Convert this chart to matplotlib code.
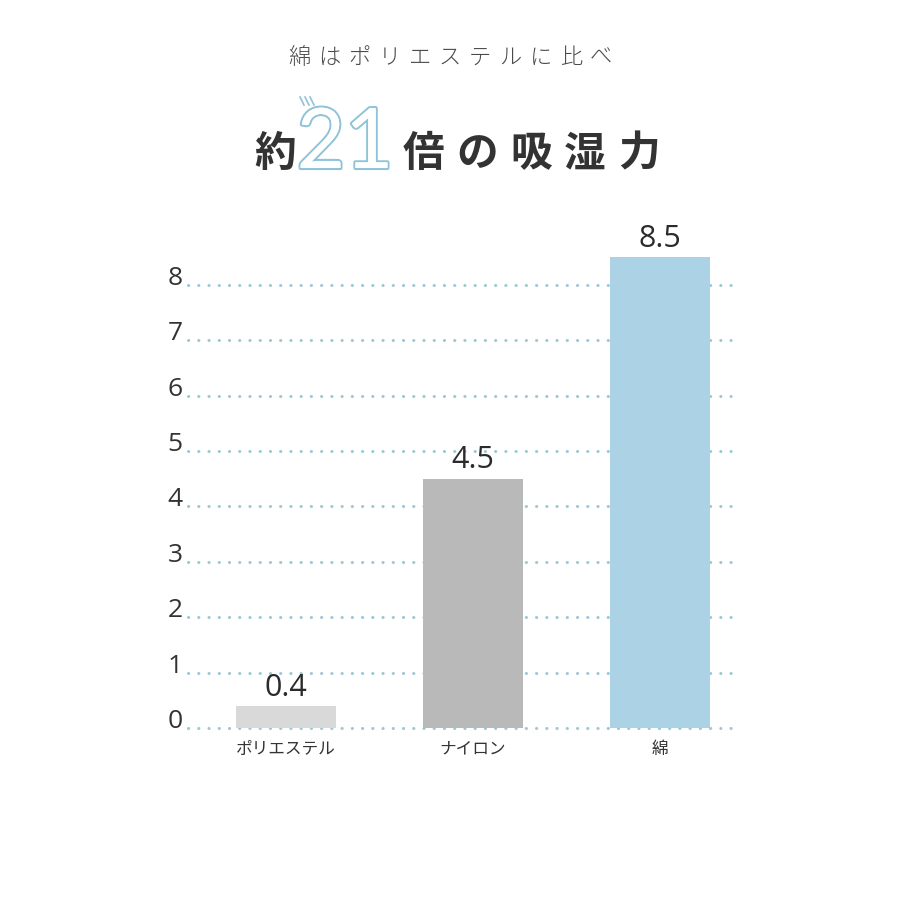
import numpy as np
import matplotlib.pyplot as plt
from matplotlib import patheffects
from matplotlib.lines import Line2D

plt.rcParams['font.family'] = ['Noto Sans CJK JP', 'DejaVu Sans']

# data
categories = ['ポリエステル', 'ナイロン', '綿']
values = [0.4, 4.5, 8.5]
value_labels = ['0.4', '4.5', '8.5']
bar_colors = ['#d9d9d9', '#b9b9b9', '#acd3e5']
yticks = [0, 1, 2, 3, 4, 5, 6, 7, 8]

subtitle = '綿はポリエステルに比べ'
title_pre = '約'
title_num = '21'
title_post = '倍の吸湿力'

fig = plt.figure(figsize=(9, 9), dpi=100)
ax = fig.add_axes([188 / 900, 1 - 728 / 900, (735 - 188) / 900, 498.6 / 900])

x = np.arange(len(categories))
ax.set_xlim(-0.524, 2.40)
ax.set_ylim(0, 9)

# dotted grid lines
for t in yticks:
    ax.axhline(t, color='#9cc8d6', lw=2.2, linestyle=(0, (0.05, 3.3)),
               dash_capstyle='round', zorder=1, clip_on=False)

bars = ax.bar(x, values, width=0.535, color=bar_colors, zorder=2)
for xi, v, lab in zip(x, values, value_labels):
    ax.text(xi, v + 0.06, lab, ha='center', va='bottom', fontsize=22,
            color='#2b2b2b', family=['Open Sans', 'DejaVu Sans'])

ax.set_yticks(yticks)
ax.set_yticklabels([str(t) for t in yticks], fontsize=19, color='#333333',
                   family=['Open Sans', 'DejaVu Sans'])
ax.set_xticks(x)
ax.set_xticklabels(categories, fontsize=12, color='#333333')
ax.tick_params(axis='y', length=0, pad=4)
ax.tick_params(axis='x', length=0, pad=9)
for lab in ax.get_yticklabels():
    lab.set_verticalalignment('baseline')
for s in ax.spines.values():
    s.set_visible(False)

# subtitle, spaced letters
for i, ch in enumerate(subtitle):
    fig.text((299 + i * 30.2) / 900, 1 - 58 / 900, ch, ha='center', va='center',
             fontsize=16, color='#4a4a4a', fontweight='light')

# main title
fig.text(275 / 900, 1 - 154 / 900, title_pre, ha='center', va='center',
         fontsize=30, fontweight='bold', color='#333333')
fig.text(345 / 900, 1 - 145 / 900, title_num, ha='center', va='center',
         fontsize=60, color='white', fontweight='normal',
         family=['Lato', 'DejaVu Sans'],
         path_effects=[patheffects.withStroke(linewidth=3, foreground='#8fc3d8'),
                       patheffects.Normal()])
for i, ch in enumerate(title_post):
    fig.text((423 + i * 54) / 900, 1 - 154 / 900, ch, ha='center', va='center',
             fontsize=30, fontweight='bold', color='#333333')

# small accent strokes near the "2"
for dx in (0, 5, 10):
    fig.add_artist(Line2D([(300 + dx) / 900, (304 + dx) / 900],
                          [1 - 97 / 900, 1 - 105 / 900],
                          color='#8fc3d8', lw=1.2))

fig.savefig('out.png', dpi=100, facecolor='white')
